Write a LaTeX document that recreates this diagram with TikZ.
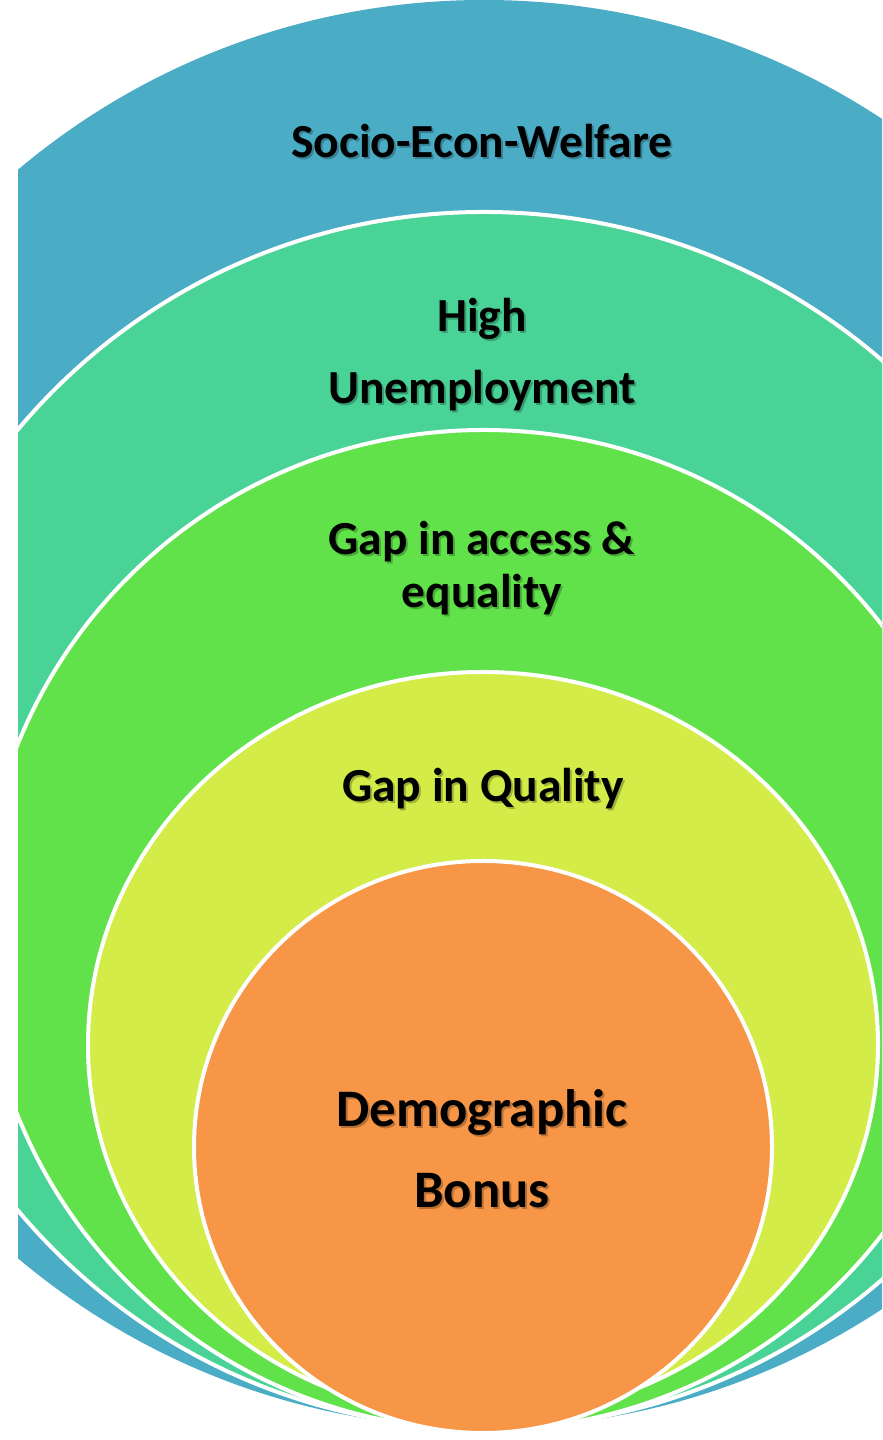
\documentclass[tikz,border=0pt]{standalone}
\usepackage{fontspec}
\setmainfont{Carlito}
\definecolor{welfareblue}{HTML}{4BACC6}
\definecolor{jobteal}{HTML}{49D396}
\definecolor{accessgreen}{HTML}{61E24A}
\definecolor{qualityyellow}{HTML}{D4EC48}
\definecolor{bonusorange}{HTML}{F79646}
\tikzset{
  ring/.style={draw=white, line width=0.4mm},
  lbl/.style={align=center, text=black, font=\bfseries\fontsize{13.5}{20.5}\selectfont},
  lblshadow/.style={lbl, text=black, text opacity=0.25}
}
\begin{document}
\begin{tikzpicture}[x=0.1mm, y=0.1mm]
\useasboundingbox (0,0) rectangle (882,1440);
\begin{scope}
\clip (18,0) rectangle (882,1440);
\fill [welfareblue] (484,726) ellipse [x radius=720, y radius=714];
\filldraw [ring, fill=jobteal] (484,620) ellipse [x radius=608, y radius=608];
\filldraw [ring, fill=accessgreen] (484,510) ellipse [x radius=502, y radius=500];
\filldraw [ring, fill=qualityyellow] (483,395) ellipse [x radius=395, y radius=373];
\filldraw [ring, fill=bonusorange] (483,293) ellipse [x radius=289, y radius=286];
\end{scope}

% labels, each with a soft shadow
\node [lblshadow] at (484,1297) {Socio-Econ-Welfare};
\node [lbl] (socio) at (482,1299) {Socio-Econ-Welfare};
\node [lblshadow] at (484,1083) {High\\Unemployment};
\node [lbl] (unemp) at (482,1085) {High\\Unemployment};
\node [lblshadow, font=\bfseries\fontsize{13.5}{15}\selectfont] at (484,870) {Gap in access \&\\equality};
\node [lbl, font=\bfseries\fontsize{13.5}{15}\selectfont] (access) at (482,872) {Gap in access \&\\equality};
\node [lblshadow] at (485,649) {Gap in Quality};
\node [lbl] (quality) at (483,651) {Gap in Quality};
\node [lblshadow, font=\bfseries\fontsize{15}{23}\selectfont] at (484,289) {Demographic\\Bonus};
\node [lbl, font=\bfseries\fontsize{15}{23}\selectfont] (bonus) at (482,291) {Demographic\\Bonus};
\end{tikzpicture}
\end{document}
